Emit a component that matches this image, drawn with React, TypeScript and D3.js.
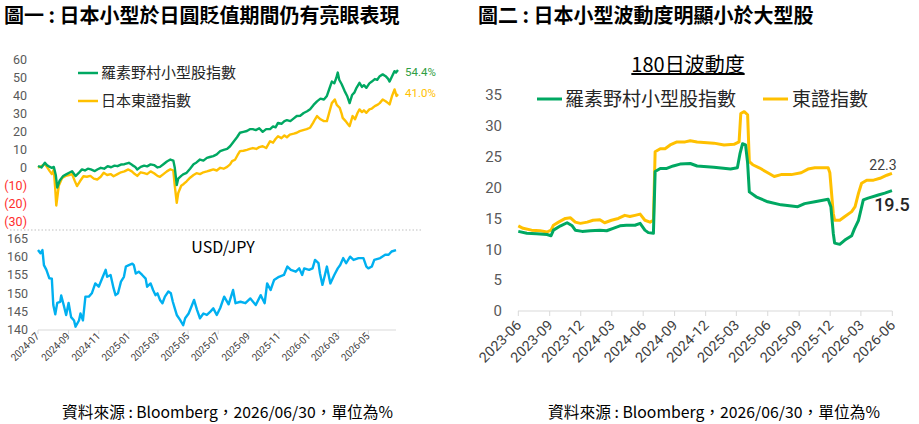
import * as d3 from 'd3';

// ---- data ----
const leftMonthTicks = ['2024-07', '2024-09', '2024-11', '2025-01', '2025-03', '2025-05', '2025-07', '2025-09', '2025-11', '2026-01', '2026-03', '2026-05'];
const perfTicks = [60, 50, 40, 30, 20, 10, 0, -10, -20, -30];
const fxTicks = [165, 160, 155, 150, 145, 140];

const smallCapPerf: [string, number][] = [
  ['2024-07-01', 1], ['2024-07-08', 0.2], ['2024-07-15', 2.8], ['2024-07-19', 1.5], ['2024-07-25', 0.5], ['2024-07-29', 0],
  ['2024-08-02', 0.5], ['2024-08-06', -4], ['2024-08-09', -11], ['2024-08-14', -7], ['2024-08-21', -4.6], ['2024-08-28', -3.5],
  ['2024-09-04', -2.5], ['2024-09-08', -1.9], ['2024-09-15', -4.6], ['2024-09-21', -3], ['2024-09-28', -0.9], ['2024-10-04', -1.5],
  ['2024-10-10', -0.5], ['2024-10-16', -0.9], ['2024-10-24', -1.8], ['2024-10-30', -0.8], ['2024-11-05', 0], ['2024-11-12', -0.5],
  ['2024-11-19', 0.9], ['2024-11-26', 0.3], ['2024-12-03', 1.2], ['2024-12-09', 0.9], ['2024-12-16', 1.8], ['2024-12-23', 2],
  ['2025-01-01', 2.8], ['2025-01-08', 1.5], ['2025-01-14', 0.5], ['2025-01-18', -0.9], ['2025-01-25', 0.5], ['2025-02-01', 1.2],
  ['2025-02-07', 0.8], ['2025-02-14', 1.9], ['2025-02-21', 1.5], ['2025-02-28', 0.2], ['2025-03-05', 0.5], ['2025-03-12', 2],
  ['2025-03-19', 3.5], ['2025-03-26', 4.6], ['2025-04-01', 4], ['2025-04-04', 0], ['2025-04-08', -9.6], ['2025-04-11', -6],
  ['2025-04-17', -4.5], ['2025-04-22', -3.5], ['2025-04-28', -2.8], ['2025-05-05', -0.5], ['2025-05-12', 2], ['2025-05-18', 3],
  ['2025-05-25', 4.6], ['2025-06-01', 4], ['2025-06-08', 5.5], ['2025-06-14', 6], ['2025-06-21', 6.5], ['2025-06-28', 7.5],
  ['2025-07-05', 9.3], ['2025-07-12', 10], ['2025-07-19', 10.5], ['2025-07-25', 12], ['2025-08-01', 14.5], ['2025-08-08', 17],
  ['2025-08-14', 19.5], ['2025-08-21', 20], ['2025-08-28', 20.5], ['2025-09-03', 21.5], ['2025-09-09', 21.5], ['2025-09-15', 21],
  ['2025-09-22', 22], ['2025-09-29', 20], ['2025-10-06', 21.5], ['2025-10-14', 21.5], ['2025-10-20', 23], ['2025-10-25', 22.5],
  ['2025-10-30', 25], ['2025-11-06', 24.5], ['2025-11-12', 26], ['2025-11-17', 26.5], ['2025-11-24', 26], ['2025-12-01', 27.5],
  ['2025-12-07', 28.8], ['2025-12-14', 29], ['2025-12-21', 30.5], ['2025-12-28', 31.5], ['2026-01-03', 32.6], ['2026-01-10', 35],
  ['2026-01-17', 37], ['2026-01-24', 38.5], ['2026-01-31', 38], ['2026-02-06', 40], ['2026-02-11', 44], ['2026-02-16', 48],
  ['2026-02-21', 47], ['2026-02-25', 50], ['2026-02-28', 53], ['2026-03-03', 49], ['2026-03-08', 46.5], ['2026-03-14', 42.7],
  ['2026-03-19', 40], ['2026-03-24', 36], ['2026-03-29', 40.5], ['2026-04-03', 42], ['2026-04-07', 44.5], ['2026-04-13', 47.3],
  ['2026-04-18', 45], ['2026-04-22', 46], ['2026-04-27', 44.5], ['2026-05-03', 47], ['2026-05-08', 48], ['2026-05-14', 49.4],
  ['2026-05-19', 49], ['2026-05-24', 51], ['2026-05-30', 52], ['2026-06-05', 51], ['2026-06-10', 49.5], ['2026-06-13', 48],
  ['2026-06-18', 51], ['2026-06-23', 53.8], ['2026-06-26', 53], ['2026-06-30', 54.4],
];

const topixPerf: [string, number][] = [
  ['2024-07-01', 0], ['2024-07-08', 1], ['2024-07-15', 2], ['2024-07-19', 0.5], ['2024-07-25', -2], ['2024-07-29', -3.5],
  ['2024-08-02', -1], ['2024-08-05', -12], ['2024-08-07', -21], ['2024-08-12', -10], ['2024-08-19', -5.6], ['2024-08-26', -4.5],
  ['2024-09-02', -4], ['2024-09-08', -3.5], ['2024-09-13', -7], ['2024-09-18', -10.2], ['2024-09-24', -7.5], ['2024-10-01', -4.7],
  ['2024-10-08', -5], ['2024-10-15', -4.5], ['2024-10-22', -6], ['2024-10-29', -6.5], ['2024-11-05', -5], ['2024-11-11', -2.8],
  ['2024-11-18', -4], ['2024-11-25', -3.5], ['2024-12-01', -4.7], ['2024-12-09', -3.5], ['2024-12-16', -2.5], ['2024-12-23', -2],
  ['2024-12-31', -0.9], ['2025-01-07', -2], ['2025-01-13', -3.5], ['2025-01-18', -4.5], ['2025-01-25', -2.5], ['2025-02-01', -3],
  ['2025-02-07', -3.5], ['2025-02-14', -2], ['2025-02-21', -3], ['2025-02-28', -4.5], ['2025-03-05', -5], ['2025-03-12', -3.5],
  ['2025-03-19', -2], ['2025-03-26', -0.8], ['2025-04-01', -1.5], ['2025-04-04', -10], ['2025-04-08', -19.5], ['2025-04-11', -14],
  ['2025-04-17', -10], ['2025-04-22', -9], ['2025-04-28', -7.5], ['2025-05-05', -5.5], ['2025-05-12', -4], ['2025-05-18', -3],
  ['2025-05-25', -3.5], ['2025-06-01', -2.5], ['2025-06-08', -2], ['2025-06-14', -1.5], ['2025-06-21', -0.9], ['2025-06-28', -1.5],
  ['2025-07-05', 0], ['2025-07-12', -0.5], ['2025-07-19', 0.5], ['2025-07-25', 1.9], ['2025-07-29', 3.7], ['2025-08-04', 4.5],
  ['2025-08-09', 7], ['2025-08-14', 9.3], ['2025-08-21', 9.5], ['2025-08-28', 10], ['2025-09-03', 10.5], ['2025-09-09', 11],
  ['2025-09-16', 10.5], ['2025-09-22', 11.5], ['2025-09-29', 12], ['2025-10-06', 11], ['2025-10-14', 14.8], ['2025-10-20', 14],
  ['2025-10-25', 16], ['2025-10-30', 17.6], ['2025-11-06', 16.5], ['2025-11-12', 18], ['2025-11-17', 17], ['2025-11-23', 18.5],
  ['2025-12-01', 19], ['2025-12-07', 19.5], ['2025-12-13', 20.4], ['2025-12-20', 21], ['2025-12-27', 21.5], ['2026-01-03', 22.3],
  ['2026-01-09', 25], ['2026-01-13', 27], ['2026-01-17', 28.8], ['2026-01-24', 27], ['2026-01-31', 26], ['2026-02-06', 26],
  ['2026-02-11', 31], ['2026-02-16', 36], ['2026-02-22', 38], ['2026-02-26', 35], ['2026-03-04', 33.4], ['2026-03-08', 30],
  ['2026-03-10', 27.8], ['2026-03-16', 26], ['2026-03-20', 24.5], ['2026-03-24', 23.2], ['2026-03-30', 28.8], ['2026-04-04', 27],
  ['2026-04-09', 30.5], ['2026-04-13', 32.5], ['2026-04-18', 31], ['2026-04-22', 32], ['2026-04-27', 30.6], ['2026-05-03', 32.5],
  ['2026-05-08', 33], ['2026-05-14', 34.3], ['2026-05-19', 35], ['2026-05-24', 36], ['2026-05-30', 38], ['2026-06-05', 37],
  ['2026-06-10', 36], ['2026-06-13', 35.3], ['2026-06-18', 40], ['2026-06-23', 43.6], ['2026-06-27', 40], ['2026-06-30', 41],
];

const usdJpy: [string, number][] = [
  ['2024-07-01', 161.8], ['2024-07-06', 160.9], ['2024-07-10', 161.8], ['2024-07-13', 157.7], ['2024-07-18', 156.4], ['2024-07-24', 154.1],
  ['2024-07-29', 154], ['2024-08-01', 146.8], ['2024-08-05', 144.3], ['2024-08-09', 147.4], ['2024-08-15', 147.7], ['2024-08-17', 149.4],
  ['2024-08-22', 146.8], ['2024-08-27', 144.1], ['2024-09-01', 147.4], ['2024-09-06', 143.5], ['2024-09-12', 142.6], ['2024-09-15', 140.9],
  ['2024-09-22', 142.6], ['2024-09-25', 144.5], ['2024-09-30', 142.6], ['2024-10-05', 149.1], ['2024-10-12', 149.1], ['2024-10-18', 150],
  ['2024-10-25', 152.7], ['2024-11-01', 151.8], ['2024-11-08', 154.1], ['2024-11-15', 156.4], ['2024-11-18', 154.5], ['2024-11-25', 155],
  ['2024-12-01', 151.4], ['2024-12-05', 149.5], ['2024-12-10', 150], ['2024-12-16', 153.2], ['2024-12-22', 154.5], ['2024-12-26', 157.3],
  ['2025-01-01', 157.7], ['2025-01-08', 158.1], ['2025-01-11', 157.7], ['2025-01-15', 155.4], ['2025-01-21', 155.9], ['2025-01-28', 155],
  ['2025-02-04', 154], ['2025-02-07', 151.8], ['2025-02-14', 152.7], ['2025-02-19', 150.9], ['2025-02-24', 149.5], ['2025-02-28', 150],
  ['2025-03-05', 148.2], ['2025-03-10', 147.3], ['2025-03-15', 149.1], ['2025-03-22', 150.5], ['2025-03-27', 150], ['2025-03-31', 147.7],
  ['2025-04-04', 145.9], ['2025-04-08', 144.1], ['2025-04-15', 142.7], ['2025-04-21', 141.3], ['2025-04-25', 143.2], ['2025-05-02', 144.5],
  ['2025-05-09', 146.8], ['2025-05-13', 148.2], ['2025-05-19', 145.5], ['2025-05-25', 143.2], ['2025-06-01', 144.5], ['2025-06-08', 144.1],
  ['2025-06-15', 145], ['2025-06-21', 145.9], ['2025-06-28', 144.1], ['2025-07-05', 146], ['2025-07-13', 149.1], ['2025-07-22', 147],
  ['2025-07-31', 150.9], ['2025-08-05', 147.3], ['2025-08-15', 147.7], ['2025-08-25', 147.3], ['2025-09-04', 148.6], ['2025-09-15', 146.8],
  ['2025-09-25', 149.5], ['2025-10-03', 147.3], ['2025-10-08', 152.7], ['2025-10-15', 150.9], ['2025-10-22', 153.6], ['2025-11-01', 154.5],
  ['2025-11-11', 155], ['2025-11-18', 157.3], ['2025-11-25', 156.4], ['2025-12-05', 155.9], ['2025-12-12', 156.8], ['2025-12-18', 155],
  ['2025-12-22', 156.8], ['2026-01-01', 156.4], ['2026-01-08', 156.8], ['2026-01-13', 159.1], ['2026-01-20', 158.2], ['2026-01-23', 155.4],
  ['2026-01-28', 152.3], ['2026-02-02', 155], ['2026-02-06', 157.3], ['2026-02-13', 152.7], ['2026-02-21', 155], ['2026-02-28', 156.8],
  ['2026-03-05', 157.7], ['2026-03-11', 159.6], ['2026-03-17', 158.2], ['2026-03-25', 160], ['2026-04-01', 159.1], ['2026-04-11', 159.6],
  ['2026-04-21', 159.6], ['2026-04-27', 157.3], ['2026-05-01', 156.8], ['2026-05-08', 157.3], ['2026-05-13', 159.1], ['2026-05-25', 159.6],
  ['2026-06-04', 160.5], ['2026-06-11', 160.5], ['2026-06-17', 161.4], ['2026-06-26', 161.8],
];

const rightQuarterTicks = ['2023-06', '2023-09', '2023-12', '2024-03', '2024-06', '2024-09', '2024-12', '2025-03', '2025-06', '2025-09', '2025-12', '2026-03', '2026-06'];
const volTicks = [0, 5, 10, 15, 20, 25, 30, 35];

const smallCapVol: [string, number][] = [
  ['2023-06-01', 12.9], ['2023-06-26', 12.6], ['2023-07-24', 12.5], ['2023-08-24', 12.4], ['2023-09-05', 12.2], ['2023-09-12', 13.1],
  ['2023-10-03', 13.8], ['2023-10-22', 14.3], ['2023-11-06', 13.8], ['2023-11-15', 13.1], ['2023-12-05', 12.9], ['2023-12-29', 13],
  ['2024-01-26', 13.1], ['2024-02-15', 13], ['2024-03-05', 13.4], ['2024-03-25', 13.8], ['2024-04-13', 13.9], ['2024-05-08', 13.9],
  ['2024-05-23', 14.2], ['2024-06-06', 13.1], ['2024-06-16', 12.7], ['2024-07-01', 12.6], ['2024-07-06', 22.6], ['2024-07-21', 23.1],
  ['2024-08-09', 23.1], ['2024-08-28', 23.5], ['2024-09-17', 23.8], ['2024-10-17', 23.9], ['2024-11-06', 23.5], ['2024-12-25', 23.3],
  ['2025-02-12', 23], ['2025-03-04', 23.2], ['2025-03-12', 25.6], ['2025-03-19', 27.1], ['2025-03-28', 26.9], ['2025-04-03', 24],
  ['2025-04-08', 19.3], ['2025-04-28', 18.5], ['2025-06-01', 17.7], ['2025-07-10', 17.2], ['2025-08-28', 16.9], ['2025-09-17', 17.4],
  ['2025-10-17', 17.7], ['2025-11-25', 18.1], ['2025-12-03', 16.9], ['2025-12-10', 12.6], ['2025-12-14', 11], ['2025-12-29', 10.8],
  ['2026-01-13', 11.5], ['2026-02-02', 12.2], ['2026-02-10', 13.3], ['2026-02-22', 14.7], ['2026-03-08', 18], ['2026-03-22', 18.3],
  ['2026-04-21', 18.8], ['2026-05-10', 19.1], ['2026-05-31', 19.5],
];

const topixVol: [string, number][] = [
  ['2023-06-01', 13.8], ['2023-06-15', 13.4], ['2023-07-10', 13.1], ['2023-08-04', 13], ['2023-08-24', 12.8], ['2023-09-05', 13.1],
  ['2023-09-12', 13.9], ['2023-09-27', 14.4], ['2023-10-17', 15], ['2023-11-01', 15.1], ['2023-11-15', 14.4], ['2023-11-30', 14.2],
  ['2023-12-20', 14.4], ['2024-01-06', 14.7], ['2024-01-26', 14.8], ['2024-02-09', 14.3], ['2024-02-29', 14.7], ['2024-03-20', 15],
  ['2024-04-08', 15.5], ['2024-04-23', 15.3], ['2024-05-08', 15.5], ['2024-05-23', 15.7], ['2024-06-06', 14.7], ['2024-06-21', 14.4],
  ['2024-07-01', 14.7], ['2024-07-06', 25.8], ['2024-07-21', 26.3], ['2024-08-04', 26.3], ['2024-08-19', 26.9], ['2024-09-08', 27.4],
  ['2024-10-02', 27.4], ['2024-10-17', 27.6], ['2024-11-06', 27.4], ['2024-12-25', 27.2], ['2025-01-24', 26.9], ['2025-02-22', 27],
  ['2025-03-09', 27.4], ['2025-03-14', 32], ['2025-03-24', 32.3], ['2025-04-03', 31.8], ['2025-04-08', 24.2], ['2025-04-18', 23.7],
  ['2025-05-07', 23.2], ['2025-06-01', 22.4], ['2025-06-20', 21.8], ['2025-07-10', 22.1], ['2025-08-09', 22.1], ['2025-09-07', 22.4],
  ['2025-09-27', 23], ['2025-10-17', 23.2], ['2025-11-05', 23.2], ['2025-11-25', 23.2], ['2025-11-30', 22.4], ['2025-12-10', 15.8],
  ['2025-12-14', 14.7], ['2025-12-29', 14.7], ['2026-01-13', 15.3], ['2026-02-02', 16.1], ['2026-02-12', 16.9], ['2026-02-22', 19.1],
  ['2026-03-03', 20.7], ['2026-03-18', 21.2], ['2026-04-07', 21.2], ['2026-04-26', 21.5], ['2026-05-16', 22], ['2026-05-31', 22.3],
];

const GREEN = '#00A862';
const YELLOW = '#FFC000';
const BLUE = '#00B0F0';
const AXIS_TXT = '#595959';
const FONT = '"Noto Sans CJK TC", "Noto Sans", sans-serif';
const NUM_FONT = 'Roboto, "Noto Sans", sans-serif';

const parse = d3.timeParse('%Y-%m-%d');
const parseMonth = d3.timeParse('%Y-%m');
type Pt = [Date, number];
const toPts = (arr: [string, number][]): Pt[] => arr.map(([d, v]) => [parse(d) as Date, v]);

const fmtParen = (v: number) => (v < 0 ? `(${Math.abs(v)})` : `${v}`);

const LeftPanel = () => {
  const x = d3.scaleTime().domain([parse('2024-07-01') as Date, parse('2026-06-30') as Date]).range([38, 398]);
  const yTop = d3.scaleLinear().domain([-30, 60]).range([221.7, 60]);
  const yBot = d3.scaleLinear().domain([140, 165]).range([330, 238.3]);

  const lineTop = d3.line<Pt>().x(d => x(d[0])).y(d => yTop(d[1]));
  const lineBot = d3.line<Pt>().x(d => x(d[0])).y(d => yBot(d[1]));

  return (
    <g fontFamily={FONT}>
      <text x={4} y={23} fontSize={20} fontWeight={700} fill="#000">圖一 : 日本小型於日圓貶值期間仍有亮眼表現</text>

      {perfTicks.map(t => (
        <text key={t} x={27} y={yTop(t)} dy="0.35em" textAnchor="end" fontFamily={NUM_FONT} fontSize={12.5} fill={t < 0 ? '#FF2D2D' : AXIS_TXT}>
          {fmtParen(t)}
        </text>
      ))}

      <path d={lineTop(toPts(topixPerf)) ?? ''} fill="none" stroke={YELLOW} strokeWidth={2.4} strokeLinejoin="round" />
      <path d={lineTop(toPts(smallCapPerf)) ?? ''} fill="none" stroke={GREEN} strokeWidth={2.4} strokeLinejoin="round" />

      <line x1={78} x2={98} y1={73} y2={73} stroke={GREEN} strokeWidth={2.5} />
      <text x={101} y={73} dy="0.35em" fontSize={15} fill="#262626">羅素野村小型股指數</text>
      <line x1={78} x2={98} y1={101} y2={101} stroke={YELLOW} strokeWidth={2.5} />
      <text x={101} y={101} dy="0.35em" fontSize={15} fill="#262626">日本東證指數</text>

      <text x={405} y={72} dy="0.35em" fontFamily={NUM_FONT} fontSize={11.5} fill="#2F9E44">54.4%</text>
      <text x={405} y={93} dy="0.35em" fontFamily={NUM_FONT} fontSize={11.5} fill={YELLOW}>41.0%</text>

      <line x1={10} x2={421} y1={230} y2={230} stroke="#BFBFBF" strokeWidth={1} strokeDasharray="1.5 2" />

      {fxTicks.map(t => (
        <text key={t} x={28} y={yBot(t)} dy="0.35em" textAnchor="end" fontFamily={NUM_FONT} fontSize={12.5} fill={AXIS_TXT}>{t}</text>
      ))}
      <line x1={38} x2={396} y1={330} y2={330} stroke="#D9D9D9" strokeWidth={1} />
      {leftMonthTicks.map(m => {
        const tx = x(parseMonth(m) as Date);
        return (
          <g key={m}>
            <line x1={tx} x2={tx} y1={330} y2={334} stroke="#D9D9D9" />
            <text transform={`translate(${tx + 2},${337}) rotate(-45)`} textAnchor="end" fontFamily={NUM_FONT} fontSize={10.5}
              textLength={35} lengthAdjust="spacingAndGlyphs" fill="#404040">{m}</text>
          </g>
        );
      })}
      <path d={lineBot(toPts(usdJpy)) ?? ''} fill="none" stroke={BLUE} strokeWidth={2.4} strokeLinejoin="round" />
      <text x={223} y={247} dy="0.35em" textAnchor="middle" fontSize={16} fill="#000">USD/JPY</text>

      <text x={62} y={418} fontSize={15.5} textLength={331} lengthAdjust="spacingAndGlyphs" fill="#000">資料來源 : Bloomberg，2026/06/30，單位為%</text>
    </g>
  );
};

const RightPanel = () => {
  const x = d3.scaleTime().domain([parse('2023-06-01') as Date, parse('2026-06-01') as Date]).range([518.3, 892.3]);
  const y = d3.scaleLinear().domain([0, 35]).range([311, 95]);
  const line = d3.line<Pt>().x(d => x(d[0])).y(d => y(d[1]));

  return (
    <g fontFamily={FONT}>
      <text x={478} y={23} fontSize={20} fontWeight={700} fill="#000">圖二 : 日本小型波動度明顯小於大型股</text>
      <text x={688} y={72} textAnchor="middle" fontSize={20} fill="#000" textDecoration="underline">180日波動度</text>

      <line x1={537} x2={562} y1={99} y2={99} stroke={GREEN} strokeWidth={3} />
      <text x={565} y={99} dy="0.35em" fontSize={19} fill="#262626">羅素野村小型股指數</text>
      <line x1={763} x2={788} y1={99} y2={99} stroke={YELLOW} strokeWidth={3} />
      <text x={792} y={99} dy="0.35em" fontSize={19} fill="#262626">東證指數</text>

      {volTicks.map(t => (
        <text key={t} x={502} y={y(t)} dy="0.35em" textAnchor="end" fontFamily={NUM_FONT} fontSize={15} fill={AXIS_TXT}>{t}</text>
      ))}
      <line x1={518} x2={892.3} y1={311} y2={311} stroke="#D9D9D9" strokeWidth={1} />
      {rightQuarterTicks.map(m => {
        const tx = x(parseMonth(m) as Date);
        return (
          <g key={m}>
            <line x1={tx} x2={tx} y1={311} y2={316} stroke="#D9D9D9" />
            <text transform={`translate(${tx + 4},${326}) rotate(-45)`} textAnchor="end" fontFamily={NUM_FONT} fontSize={14}
              textLength={53} lengthAdjust="spacingAndGlyphs" fill="#404040">{m}</text>
          </g>
        );
      })}

      <path d={line(toPts(topixVol)) ?? ''} fill="none" stroke={YELLOW} strokeWidth={3} strokeLinejoin="round" />
      <path d={line(toPts(smallCapVol)) ?? ''} fill="none" stroke={GREEN} strokeWidth={3} strokeLinejoin="round" />

      <text x={883} y={165} dy="0.35em" textAnchor="middle" fontFamily={NUM_FONT} fontSize={14} fill="#404040">22.3</text>
      <text x={892} y={205} dy="0.35em" textAnchor="middle" fontFamily={NUM_FONT} fontSize={18} fontWeight={500} fill="#262626">19.5</text>

      <text x={548} y={418} fontSize={15.5} textLength={332} lengthAdjust="spacingAndGlyphs" fill="#000">資料來源 : Bloomberg，2026/06/30，單位為%</text>
    </g>
  );
};

export default function App() {
  return (
    <svg width={919} height={424} style={{ position: 'absolute', left: 0, top: 0, background: '#fff' }}>
      <rect x={0} y={0} width={919} height={424} fill="#fff" />
      <LeftPanel />
      <RightPanel />
    </svg>
  );
}
